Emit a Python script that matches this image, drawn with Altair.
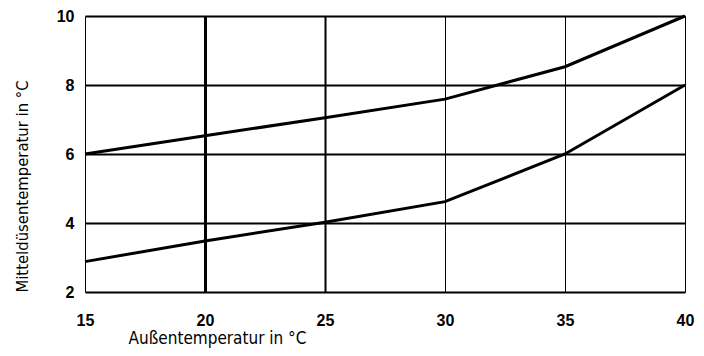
import altair as alt
import pandas as pd

aussen = [15, 20, 25, 30, 35, 40]
obere_kurve = [6.0, 6.53, 7.05, 7.59, 8.53, 10.0]
untere_kurve = [2.88, 3.48, 4.02, 4.62, 6.0, 8.0]

df = pd.DataFrame({
    "x": aussen * 2,
    "y": obere_kurve + untere_kurve,
    "kurve": ["oben"] * len(aussen) + ["unten"] * len(aussen),
})

label_font = "Liberation Sans"
title_font = "'DejaVu Sans Condensed', 'Liberation Sans Narrow', 'Arial Narrow', 'Liberation Sans', sans-serif"

chart = alt.Chart(df).mark_line(color="black", strokeWidth=3).encode(
    x=alt.X("x:Q",
            scale=alt.Scale(domain=[15, 40], nice=False, zero=False),
            axis=alt.Axis(values=[15, 20, 25, 30, 35, 40], title="Außentemperatur in °C",
                          grid=True, gridColor="black",
                          gridWidth=alt.ExprRef("datum.value == 20 ? 3 : datum.value == 25 ? 2 : 1"),
                          gridOpacity=1, domain=False, ticks=False,
                          labelFont=label_font, labelFontWeight="bold", labelFontSize=16,
                          labelColor="black", labelPadding=20,
                          labelFlush=False,
                          titleFont=title_font, titleFontWeight="normal", titleFontSize=17,
                          titleColor="black", titleAlign="left", titleAnchor="start",
                          titleX=43, titleY=46, titleBaseline="middle")),
    y=alt.Y("y:Q",
            scale=alt.Scale(domain=[2, 10], nice=False, zero=False),
            axis=alt.Axis(values=[2, 4, 6, 8, 10], title="Mitteldüsentemperatur in °C",
                          grid=True, gridColor="black", gridWidth=2, gridOpacity=1,
                          domain=False, ticks=False,
                          labelFont=label_font, labelFontWeight="bold", labelFontSize=16,
                          labelColor="black", labelPadding=11, labelFlush=False,
                          titleFont=title_font, titleFontWeight="normal", titleFontSize=16.5,
                          titleColor="black", titleAngle=270,
                          titleX=-63, titleY=170, titleBaseline="middle", titleAlign="center")),
    detail="kurve:N",
).properties(
    width=600, height=276,
    autosize=alt.AutoSizeParams(type="none"),
    padding={"left": 77, "top": 8, "right": 11, "bottom": 60},
).configure_view(
    stroke="black", strokeWidth=2
).configure(background="white")

chart.save("out.html", embed_options={"renderer": "svg", "actions": False})
